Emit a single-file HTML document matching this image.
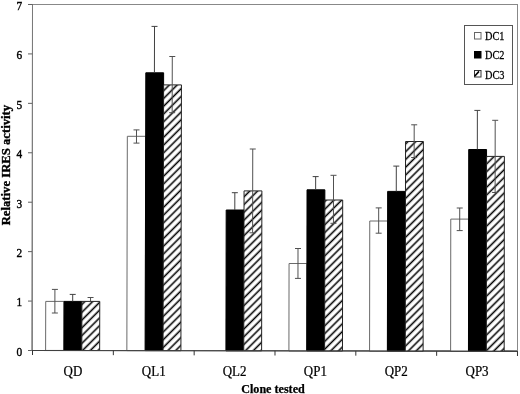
<!DOCTYPE html><html><head><meta charset="utf-8"><style>html,body{margin:0;padding:0;background:#fff;}svg{display:block;filter:blur(0.25px);will-change:transform;}text{font-family:"Liberation Serif",serif;stroke:#000;stroke-width:0.25px;}</style></head><body>
<svg width="520" height="394" viewBox="0 0 520 394">
<defs><pattern id="h" patternUnits="userSpaceOnUse" width="5.494" height="10" patternTransform="rotate(45)"><rect width="5.494" height="10" fill="#fff"/><rect x="3.26" y="0" width="1.55" height="10" fill="#000"/></pattern></defs>
<rect x="32.5" y="4.5" width="485" height="346" fill="none" stroke="#888" stroke-width="1"/>
<path d="M45.72 301.40L64.07 301.40L63.95 350.45L45.60 350.45Z" fill="#fff" stroke="#6a6a6a" stroke-width="1"/>
<path d="M64.07 301.40L81.92 301.40L81.80 350.48L63.95 350.48Z" fill="#000" stroke="#000" stroke-width="1"/>
<path d="M81.92 301.40L99.77 301.40L99.65 350.52L81.80 350.52Z" fill="url(#h)" stroke="#222" stroke-width="1"/>
<path d="M127.33 136.30L145.67 136.30L145.21 350.61L126.85 350.61Z" fill="#fff" stroke="#6a6a6a" stroke-width="1"/>
<path d="M145.80 72.80L163.64 72.80L163.06 350.65L145.21 350.65Z" fill="#000" stroke="#000" stroke-width="1"/>
<path d="M163.61 84.90L181.45 84.90L180.91 350.69L163.06 350.69Z" fill="url(#h)" stroke="#222" stroke-width="1"/>
<path d="M226.18 210.00L244.02 210.00L243.76 350.82L225.91 350.82Z" fill="#000" stroke="#000" stroke-width="1"/>
<path d="M244.06 190.90L261.90 190.90L261.61 350.85L243.76 350.85Z" fill="url(#h)" stroke="#222" stroke-width="1"/>
<path d="M289.06 263.50L306.91 263.50L306.77 350.95L288.91 350.95Z" fill="#fff" stroke="#6a6a6a" stroke-width="1"/>
<path d="M307.03 189.80L324.87 189.80L324.62 350.98L306.77 350.98Z" fill="#000" stroke="#000" stroke-width="1"/>
<path d="M324.86 200.00L342.70 200.00L342.47 351.02L324.62 351.02Z" fill="url(#h)" stroke="#222" stroke-width="1"/>
<path d="M369.76 221.00L387.60 221.00L387.42 351.11L369.57 351.11Z" fill="#fff" stroke="#6a6a6a" stroke-width="1"/>
<path d="M387.64 191.40L405.49 191.40L405.27 351.15L387.42 351.15Z" fill="#000" stroke="#000" stroke-width="1"/>
<path d="M405.55 141.50L423.39 141.50L423.12 351.19L405.27 351.19Z" fill="url(#h)" stroke="#222" stroke-width="1"/>
<path d="M450.78 219.10L468.63 219.10L468.48 351.28L450.62 351.28Z" fill="#fff" stroke="#6a6a6a" stroke-width="1"/>
<path d="M468.71 149.50L486.55 149.50L486.33 351.32L468.48 351.32Z" fill="#000" stroke="#000" stroke-width="1"/>
<path d="M486.54 156.40L504.38 156.40L504.18 351.35L486.33 351.35Z" fill="url(#h)" stroke="#222" stroke-width="1"/>
<path d="M54.92 289.40L54.87 313.00M51.92 289.40h6" stroke="#505050" stroke-width="1" fill="none"/>
<path d="M51.87 313.00h6" stroke="#505050" stroke-width="1" fill="none"/>
<path d="M72.71 294.40L72.69 301.40M69.71 294.40h6" stroke="#404040" stroke-width="1" fill="none"/>
<path d="M90.55 297.50L90.54 301.40M87.55 297.50h6" stroke="#505050" stroke-width="1" fill="none"/>
<path d="M136.51 129.90L136.48 143.10M133.51 129.90h6" stroke="#505050" stroke-width="1" fill="none"/>
<path d="M133.48 143.10h6" stroke="#505050" stroke-width="1" fill="none"/>
<path d="M154.52 26.40L154.42 72.80M151.52 26.40h6" stroke="#404040" stroke-width="1" fill="none"/>
<path d="M172.29 56.50L172.17 112.70M169.29 56.50h6" stroke="#505050" stroke-width="1" fill="none"/>
<path d="M169.17 112.70h6" stroke="#505050" stroke-width="1" fill="none"/>
<path d="M234.83 192.70L234.80 210.00M231.83 192.70h6" stroke="#404040" stroke-width="1" fill="none"/>
<path d="M252.75 149.00L252.60 232.80M249.75 149.00h6" stroke="#505050" stroke-width="1" fill="none"/>
<path d="M249.60 232.80h6" stroke="#505050" stroke-width="1" fill="none"/>
<path d="M298.01 248.50L297.96 278.40M295.01 248.50h6" stroke="#505050" stroke-width="1" fill="none"/>
<path d="M294.96 278.40h6" stroke="#505050" stroke-width="1" fill="none"/>
<path d="M315.67 176.60L315.65 189.80M312.67 176.60h6" stroke="#404040" stroke-width="1" fill="none"/>
<path d="M333.52 175.30L333.44 223.30M330.52 175.30h6" stroke="#505050" stroke-width="1" fill="none"/>
<path d="M330.44 223.30h6" stroke="#505050" stroke-width="1" fill="none"/>
<path d="M378.70 207.90L378.66 233.20M375.70 207.90h6" stroke="#505050" stroke-width="1" fill="none"/>
<path d="M375.66 233.20h6" stroke="#505050" stroke-width="1" fill="none"/>
<path d="M396.30 166.10L396.27 191.40M393.30 166.10h6" stroke="#404040" stroke-width="1" fill="none"/>
<path d="M414.20 124.80L414.15 157.50M411.20 124.80h6" stroke="#505050" stroke-width="1" fill="none"/>
<path d="M411.15 157.50h6" stroke="#505050" stroke-width="1" fill="none"/>
<path d="M459.72 208.00L459.69 230.60M456.72 208.00h6" stroke="#505050" stroke-width="1" fill="none"/>
<path d="M456.69 230.60h6" stroke="#505050" stroke-width="1" fill="none"/>
<path d="M477.37 110.40L477.33 149.50M474.37 110.40h6" stroke="#404040" stroke-width="1" fill="none"/>
<path d="M495.20 120.30L495.12 192.50M492.20 120.30h6" stroke="#505050" stroke-width="1" fill="none"/>
<path d="M492.12 192.50h6" stroke="#505050" stroke-width="1" fill="none"/>
<path d="M32.5 4L31.8 351" stroke="#7a7a7a" stroke-width="1"/>
<path d="M32 350.4L518 351.4" stroke="#404040" stroke-width="1.05"/>
<path d="M28 350.50H31.80" stroke="#606060" stroke-width="1"/>
<text x="22.3" y="355.90" font-size="13.2" text-anchor="end" style="stroke-width:0.4px" transform="translate(22.3 0) scale(0.86 1) translate(-22.3 0)">0</text>
<path d="M28 301.07H31.90" stroke="#606060" stroke-width="1"/>
<text x="22.3" y="306.47" font-size="13.2" text-anchor="end" style="stroke-width:0.4px" transform="translate(22.3 0) scale(0.86 1) translate(-22.3 0)">1</text>
<path d="M28 251.64H32.00" stroke="#606060" stroke-width="1"/>
<text x="22.3" y="257.04" font-size="13.2" text-anchor="end" style="stroke-width:0.4px" transform="translate(22.3 0) scale(0.86 1) translate(-22.3 0)">2</text>
<path d="M28 202.21H32.10" stroke="#606060" stroke-width="1"/>
<text x="22.3" y="207.61" font-size="13.2" text-anchor="end" style="stroke-width:0.4px" transform="translate(22.3 0) scale(0.86 1) translate(-22.3 0)">3</text>
<path d="M28 152.78H32.20" stroke="#606060" stroke-width="1"/>
<text x="22.3" y="158.18" font-size="13.2" text-anchor="end" style="stroke-width:0.4px" transform="translate(22.3 0) scale(0.86 1) translate(-22.3 0)">4</text>
<path d="M28 103.35H32.30" stroke="#606060" stroke-width="1"/>
<text x="22.3" y="108.75" font-size="13.2" text-anchor="end" style="stroke-width:0.4px" transform="translate(22.3 0) scale(0.86 1) translate(-22.3 0)">5</text>
<path d="M28 53.92H32.40" stroke="#606060" stroke-width="1"/>
<text x="22.3" y="59.32" font-size="13.2" text-anchor="end" style="stroke-width:0.4px" transform="translate(22.3 0) scale(0.86 1) translate(-22.3 0)">6</text>
<path d="M28 4.49H32.50" stroke="#606060" stroke-width="1"/>
<text x="22.3" y="9.89" font-size="13.2" text-anchor="end" style="stroke-width:0.4px" transform="translate(22.3 0) scale(0.86 1) translate(-22.3 0)">7</text>
<path d="M32.50 350.40V355.00" stroke="#333" stroke-width="1"/>
<path d="M113.33 350.57V355.17" stroke="#333" stroke-width="1"/>
<path d="M194.16 350.73V355.33" stroke="#333" stroke-width="1"/>
<path d="M274.99 350.90V355.50" stroke="#333" stroke-width="1"/>
<path d="M355.82 351.07V355.67" stroke="#333" stroke-width="1"/>
<path d="M436.65 351.23V355.83" stroke="#333" stroke-width="1"/>
<path d="M517.48 351.40V356.00" stroke="#333" stroke-width="1"/>
<text x="72.91" y="375.8" font-size="13.6" text-anchor="middle" transform="translate(72.91 0) scale(0.955 1) translate(-72.91 0)">QD</text>
<text x="153.75" y="375.8" font-size="13.6" text-anchor="middle" transform="translate(153.75 0) scale(0.955 1) translate(-153.75 0)">QL1</text>
<text x="234.57" y="375.8" font-size="13.6" text-anchor="middle" transform="translate(234.57 0) scale(0.955 1) translate(-234.57 0)">QL2</text>
<text x="315.40" y="375.8" font-size="13.6" text-anchor="middle" transform="translate(315.40 0) scale(0.955 1) translate(-315.40 0)">QP1</text>
<text x="396.24" y="375.8" font-size="13.6" text-anchor="middle" transform="translate(396.24 0) scale(0.955 1) translate(-396.24 0)">QP2</text>
<text x="477.06" y="375.8" font-size="13.6" text-anchor="middle" transform="translate(477.06 0) scale(0.955 1) translate(-477.06 0)">QP3</text>
<text x="273" y="392.8" font-size="12.1" font-weight="bold" text-anchor="middle" style="stroke-width:0.25px">Clone tested</text>
<text transform="translate(9.8,165.1) rotate(-90)" font-size="12.7" font-weight="bold" text-anchor="middle" style="stroke-width:0.35px">Relative IRES activity</text>
<rect x="464.5" y="25.5" width="48" height="59" fill="#fff" stroke="#555" stroke-width="1"/>
<rect x="474.5" y="32.5" width="6.5" height="6.5" fill="#fff" stroke="#666" stroke-width="1"/>
<rect x="474.5" y="51.5" width="6.5" height="6.5" fill="#000" stroke="#000" stroke-width="1"/>
<rect x="474.5" y="70.5" width="6.5" height="6.5" fill="#fff" stroke="#333" stroke-width="1"/><path d="M474.6 76.2L479 71.4" stroke="#000" stroke-width="1.6"/>
<text x="485" y="40.00" font-size="11.8" transform="translate(485 0) scale(0.875 1) translate(-485 0)">DC1</text>
<text x="485" y="59.30" font-size="11.8" transform="translate(485 0) scale(0.875 1) translate(-485 0)">DC2</text>
<text x="485" y="78.60" font-size="11.8" transform="translate(485 0) scale(0.875 1) translate(-485 0)">DC3</text>
</svg></body></html>
